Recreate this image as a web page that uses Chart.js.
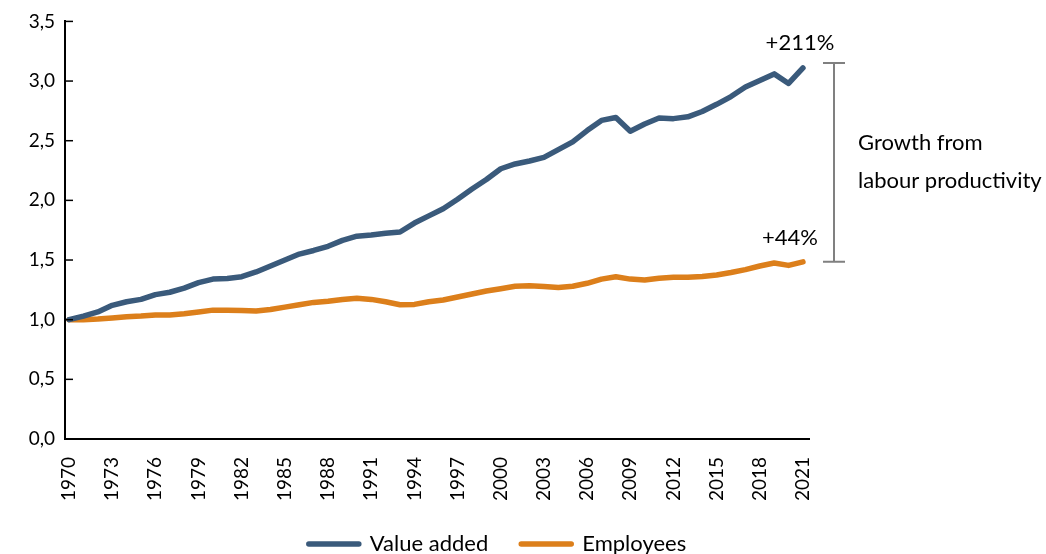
<!DOCTYPE html>
<html><head><meta charset="utf-8">
<script src="https://cdn.jsdelivr.net/npm/chart.js@4.4.1/dist/chart.umd.min.js"></script>
<style>html,body{margin:0;padding:0;background:#fff}canvas{display:block}</style>
</head><body>
<canvas id="c" width="1046" height="554"></canvas>
<script>
const years = [1970,1971,1972,1973,1974,1975,1976,1977,1978,1979,1980,1981,1982,1983,1984,1985,1986,1987,1988,1989,1990,1991,1992,1993,1994,1995,1996,1997,1998,1999,2000,2001,2002,2003,2004,2005,2006,2007,2008,2009,2010,2011,2012,2013,2014,2015,2016,2017,2018,2019,2020,2021];
const valueAdded = [1.00,1.03,1.065,1.12,1.15,1.17,1.21,1.23,1.265,1.31,1.34,1.345,1.36,1.40,1.45,1.50,1.55,1.58,1.615,1.665,1.70,1.71,1.725,1.735,1.81,1.87,1.93,2.01,2.095,2.175,2.265,2.305,2.33,2.36,2.425,2.49,2.585,2.67,2.695,2.58,2.64,2.69,2.685,2.70,2.745,2.805,2.87,2.95,3.005,3.06,2.98,3.11];
const employees = [1.00,1.00,1.005,1.015,1.025,1.03,1.04,1.04,1.05,1.065,1.08,1.08,1.078,1.072,1.085,1.105,1.125,1.145,1.155,1.17,1.18,1.17,1.15,1.125,1.128,1.15,1.165,1.19,1.215,1.24,1.26,1.28,1.285,1.278,1.27,1.28,1.305,1.34,1.36,1.34,1.333,1.348,1.355,1.355,1.362,1.375,1.395,1.42,1.45,1.475,1.455,1.485];
const tickYears = [1970,1973,1976,1979,1982,1985,1988,1991,1994,1997,2000,2003,2006,2009,2012,2015,2018,2021];
const yTicks = [0,0.5,1.0,1.5,2.0,2.5,3.0,3.5];
const seriesNames = ['Value added','Employees'];
const vaLabel = '+211%';
const empLabel = '+44%';
const bracketText = ['Growth from','labour productivity'];

const BLUE = '#3a5a7b', ORANGE = '#dc7f1b', GRAY = '#808080';
Chart.defaults.font.family = 'Lato';
Chart.defaults.color = '#000';

const innerTicks = {
  id: 'innerTicks',
  afterDraw(chart) {
    const y = chart.scales.y, ctx = chart.ctx;
    ctx.save();
    ctx.strokeStyle = '#000';
    ctx.lineWidth = 1.5;
    y.ticks.forEach(t => {
      const py = y.getPixelForValue(t.value);
      ctx.beginPath();
      ctx.moveTo(y.right, py);
      ctx.lineTo(y.right + 8, py);
      ctx.stroke();
    });
    ctx.restore();
  }
};

const annotations = {
  id: 'annotations',
  afterDraw(chart) {
    const xs = chart.scales.x, ys = chart.scales.y, ctx = chart.ctx;
    const n = years.length - 1;
    const px = xs.getPixelForValue(years[n]);
    const pyVA = ys.getPixelForValue(valueAdded[n]);
    const pyE = ys.getPixelForValue(employees[n]);
    ctx.save();
    ctx.fillStyle = '#000';
    ctx.font = '22px Lato';
    ctx.textAlign = 'center';
    ctx.textBaseline = 'middle';
    ctx.fillText(vaLabel, px - 3, pyVA - 25);
    ctx.fillText(empLabel, px - 13, pyE - 24);
    const bx = chart.chartArea.right + 25;
    const top = pyVA - 5, bot = pyE;
    ctx.strokeStyle = GRAY;
    ctx.lineWidth = 2;
    ctx.beginPath();
    ctx.moveTo(bx, top); ctx.lineTo(bx, bot);
    ctx.moveTo(bx - 11, top); ctx.lineTo(bx + 11, top);
    ctx.moveTo(bx - 11, bot); ctx.lineTo(bx + 11, bot);
    ctx.stroke();
    ctx.textAlign = 'left';
    ctx.font = '22px Lato';
    const mid = (top + bot) / 2;
    ctx.fillText(bracketText[0], bx + 24, mid - 19);
    ctx.fillText(bracketText[1], bx + 24, mid + 19);
    ctx.restore();
  }
};

new Chart(document.getElementById('c'), {
  type: 'line',
  data: {
    datasets: [
      { label: seriesNames[0], data: years.map((yr, i) => ({x: yr, y: valueAdded[i]})),
        borderColor: BLUE, backgroundColor: BLUE, borderWidth: 5.5, pointRadius: 0,
        tension: 0, borderCapStyle: 'round', borderJoinStyle: 'round' },
      { label: seriesNames[1], data: years.map((yr, i) => ({x: yr, y: employees[i]})),
        borderColor: ORANGE, backgroundColor: ORANGE, borderWidth: 5.5, pointRadius: 0,
        tension: 0, borderCapStyle: 'round', borderJoinStyle: 'round' }
    ]
  },
  options: {
    responsive: false,
    animation: false,
    devicePixelRatio: 1,
    layout: { padding: { top: 10, right: 51, bottom: -11, left: 0 } },
    plugins: {
      tooltip: { enabled: false },
      legend: {
        position: 'bottom',
        labels: { boxWidth: 50, boxHeight: 0, padding: 33, font: { size: 22 }, color: '#000' }
      }
    },
    scales: {
      x: {
        type: 'linear',
        min: 1969.72, max: 2021.42,
        afterBuildTicks: s => { s.ticks = tickYears.map(v => ({value: v})); },
        afterFit: s => { s.height = 61; },
        ticks: { autoSkip: false, minRotation: 90, maxRotation: 90, padding: 18, font: { size: 19 },
                 callback: v => String(v), color: '#000' },
        grid: { display: false, drawTicks: false },
        border: { display: true, color: '#000', width: 2 }
      },
      y: {
        min: 0, max: 3.5,
        afterBuildTicks: s => { s.ticks = yTicks.map(v => ({value: v})); },
        afterFit: s => { s.width = 65; },
        ticks: { padding: 10, font: { size: 19 }, color: '#000',
                 callback: v => Number(v).toFixed(1).replace('.', ',') },
        grid: { display: false, drawTicks: false },
        border: { display: true, color: '#000', width: 2 }
      },
      yR: {
        position: 'right',
        display: true,
        afterFit: s => { s.width = 186; },
        ticks: { display: false },
        grid: { display: false, drawTicks: false },
        border: { display: false }
      }
    }
  },
  plugins: [innerTicks, annotations]
});
</script>
</body></html>
